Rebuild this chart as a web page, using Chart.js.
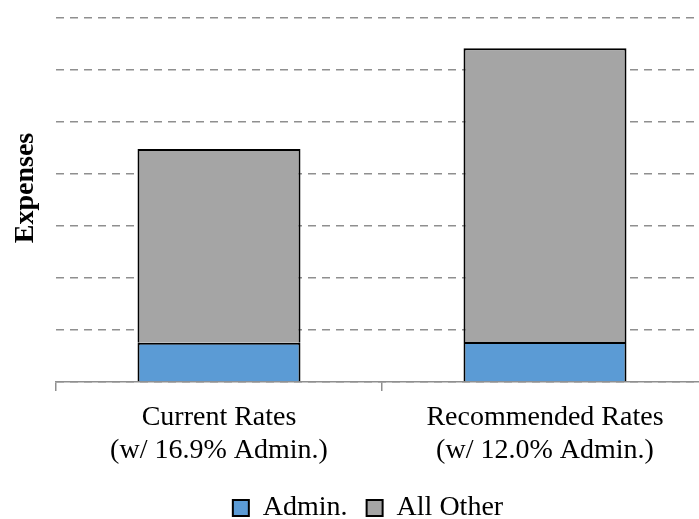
<!DOCTYPE html>
<html>
<head>
<meta charset="utf-8">
<script src="https://cdn.jsdelivr.net/npm/chart.js@4/dist/chart.umd.min.js"></script>
<style>
  html, body { margin: 0; padding: 0; overflow: hidden; background: #ffffff; }
  canvas { display: block; }
</style>
</head>
<body>
<canvas id="chart" width="712" height="519"></canvas>
<script>
// Scenario names and the admin share quoted under each bar
const scenarios = ["Current Rates", "Recommended Rates"];
const adminShare = [16.9, 12.0];           // percent of total expenses
const totalExpenses = [4.48, 6.42];        // total bar height (grid units)
const yMax = 7;                            // top dashed gridline

// Split each total into the admin part and everything else
const adminValues = totalExpenses.map((t, i) => +(t * adminShare[i] / 100).toFixed(3));
const otherValues = totalExpenses.map((t, i) => +(t - adminValues[i]).toFixed(3));

const categoryLabels = scenarios.map((s, i) => [s, "(w/ " + adminShare[i].toFixed(1) + "% Admin.)"]);

const SERIF = '"Liberation Serif", "Times New Roman", serif';
const GRID_GRAY = '#8f8f8f';

// Rotated "Expenses" caption on the left
const yCaption = {
  id: 'yCaption',
  afterDraw(chart) {
    const ctx = chart.ctx;
    ctx.save();
    ctx.translate(26, 188);
    ctx.rotate(-Math.PI / 2);
    ctx.font = 'bold 28px ' + SERIF;
    ctx.fillStyle = '#000000';
    ctx.textAlign = 'center';
    ctx.textBaseline = 'middle';
    ctx.fillText('Expenses', 0, 0);
    ctx.restore();
  }
};

new Chart(document.getElementById('chart'), {
  type: 'bar',
  data: {
    labels: categoryLabels,
    datasets: [
      {
        label: 'Admin.',
        data: adminValues,
        backgroundColor: '#5b9bd5',
        borderColor: '#000000',
        borderWidth: 2,
        barPercentage: 0.5,
        categoryPercentage: 1.0
      },
      {
        label: 'All Other',
        data: otherValues,
        backgroundColor: '#a5a5a5',
        borderColor: '#000000',
        borderWidth: 2,
        barPercentage: 0.5,
        categoryPercentage: 1.0
      }
    ]
  },
  options: {
    responsive: false,
    animation: false,
    layout: { padding: { left: 28, right: 4, top: 18, bottom: -13 } },
    plugins: {
      tooltip: { enabled: false },
      legend: {
        position: 'bottom',
        labels: {
          boxWidth: 16,
          boxHeight: 16,
          padding: 19,
          color: '#000000',
          font: { family: SERIF, size: 28 }
        }
      }
    },
    scales: {
      x: {
        stacked: true,
        offset: true,
        afterFit(scale) { scale.height = 93; },
        grid: {
          display: true,
          drawOnChartArea: false,
          drawTicks: true,
          tickLength: 9,
          color: GRID_GRAY,
          lineWidth: 1.5
        },
        border: { display: true, color: GRID_GRAY, width: 1.5 },
        ticks: {
          color: '#000000',
          padding: 10,
          maxRotation: 0,
          font: { family: SERIF, size: 28, lineHeight: 1.18 }
        }
      },
      y: {
        stacked: true,
        min: 0,
        max: yMax,
        afterFit(scale) { scale.width = 28; },
        ticks: { display: false, stepSize: 1 },
        grid: {
          drawTicks: false,
          color: GRID_GRAY,
          lineWidth: 1.5
        },
        border: { display: false, dash: [8, 6] }
      }
    }
  },
  plugins: [yCaption]
});
</script>
</body>
</html>
